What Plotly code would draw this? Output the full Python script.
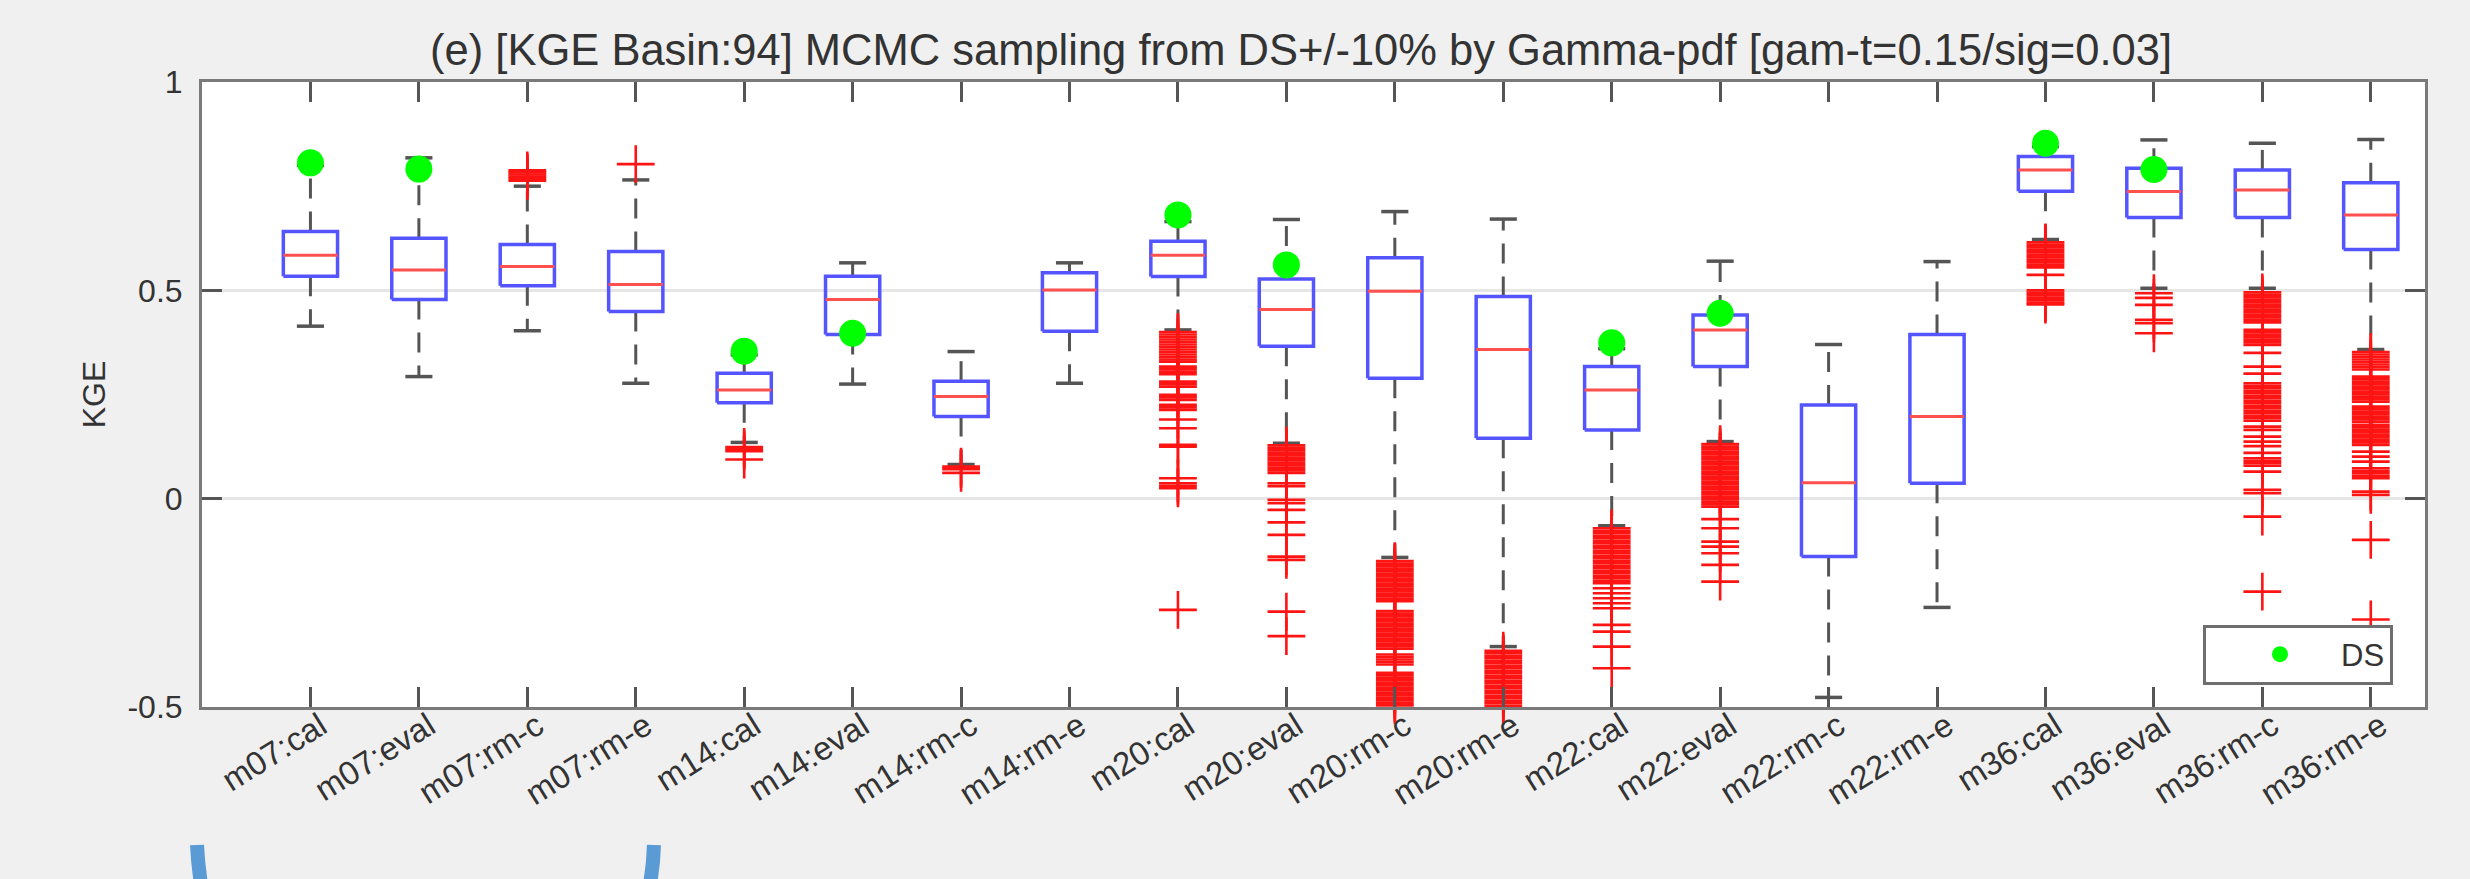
import plotly.graph_objects as go

# ---------------- data ----------------
categories = ["m07:cal", "m07:eval", "m07:rm-c", "m07:rm-e",
              "m14:cal", "m14:eval", "m14:rm-c", "m14:rm-e",
              "m20:cal", "m20:eval", "m20:rm-c", "m20:rm-e",
              "m22:cal", "m22:eval", "m22:rm-c", "m22:rm-e",
              "m36:cal", "m36:eval", "m36:rm-c", "m36:rm-e"]

q1 = [0.534, 0.478, 0.511, 0.449, 0.230, 0.394, 0.197, 0.402, 0.533, 0.366,
      0.289, 0.145, 0.165, 0.317, -0.139, 0.037, 0.738, 0.675, 0.675, 0.598]
median = [0.584, 0.549, 0.557, 0.514, 0.261, 0.478, 0.245, 0.501, 0.584, 0.454,
          0.498, 0.358, 0.261, 0.405, 0.038, 0.197, 0.789, 0.737, 0.741, 0.681]
q3 = [0.641, 0.625, 0.610, 0.593, 0.301, 0.534, 0.282, 0.542, 0.618, 0.527,
      0.578, 0.485, 0.317, 0.441, 0.225, 0.394, 0.821, 0.793, 0.789, 0.758]
whisker_low = [0.414, 0.293, 0.403, 0.277, 0.135, 0.275, 0.082, 0.277, 0.405, 0.133,
               -0.141, -0.355, -0.065, 0.137, -0.477, -0.261, 0.622, 0.505, 0.505, 0.358]
whisker_high = [0.800, 0.818, 0.750, 0.765, 0.345, 0.566, 0.353, 0.566, 0.665, 0.670,
                0.689, 0.671, 0.360, 0.570, 0.370, 0.569, 0.845, 0.861, 0.853, 0.862]

ds_value = [0.806, 0.791, None, None, 0.354, 0.397, None, None, 0.681, 0.561,
            None, None, 0.374, 0.445, None, None, 0.853, 0.790, None, None]

out_m07_cal = []
out_m07_eval = []
out_m07_rmc = [0.788, 0.783, 0.778, 0.773, 0.768, 0.763]
out_m07_rme = [0.803]
out_m14_cal = [0.124, 0.119, 0.114, 0.094]
out_m14_eval = []
out_m14_rmc = [0.077, 0.071, 0.062]
out_m14_rme = []
out_m20_cal = [0.400, 0.394, 0.388, 0.382, 0.376, 0.370, 0.364, 0.358, 0.352, 0.346,
               0.340, 0.334, 0.329, 0.317, 0.311, 0.305, 0.299, 0.281, 0.275, 0.269,
               0.249, 0.243, 0.237, 0.225, 0.219, 0.213, 0.190, 0.169, 0.129, 0.125,
               0.049, 0.037, 0.031, 0.025, -0.267]
out_m20_eval = [0.128, 0.122, 0.116, 0.110, 0.104, 0.098, 0.092, 0.086, 0.080, 0.074,
                0.068, 0.062, 0.037, 0.030, -0.003, -0.011, -0.027, -0.057, -0.087,
                -0.139, -0.147, -0.271, -0.330]
out_m20_rmc = [-0.150, -0.156, -0.162, -0.168, -0.174, -0.180, -0.186, -0.192, -0.198,
               -0.204, -0.210, -0.216, -0.222, -0.228, -0.234, -0.240, -0.246, -0.270,
               -0.276, -0.282, -0.288, -0.294, -0.300, -0.306, -0.312, -0.318, -0.324,
               -0.330, -0.336, -0.342, -0.348, -0.354, -0.360, -0.374, -0.380, -0.386,
               -0.392, -0.398, -0.418, -0.424, -0.430, -0.436, -0.442, -0.448, -0.454,
               -0.460, -0.466, -0.472, -0.478, -0.484, -0.490, -0.496]
out_m20_rme = [-0.365, -0.371, -0.377, -0.383, -0.389, -0.395, -0.401, -0.407, -0.413,
               -0.419, -0.425, -0.431, -0.437, -0.443, -0.449, -0.455, -0.461, -0.467,
               -0.473, -0.479, -0.485, -0.491, -0.497]
out_m22_cal = [-0.071, -0.077, -0.083, -0.089, -0.095, -0.101, -0.107, -0.113, -0.119,
               -0.125, -0.131, -0.137, -0.143, -0.149, -0.155, -0.161, -0.167, -0.173,
               -0.179, -0.185, -0.191, -0.197, -0.203, -0.215, -0.227, -0.239, -0.251,
               -0.263, -0.303, -0.319, -0.355, -0.407]
out_m22_eval = [0.131, 0.125, 0.119, 0.113, 0.107, 0.101, 0.095, 0.089, 0.083, 0.077,
                0.071, 0.065, 0.059, 0.053, 0.047, 0.041, 0.035, 0.029, 0.023, 0.017,
                0.011, 0.005, -0.001, -0.007, -0.013, -0.019, -0.049, -0.071, -0.103,
                -0.115, -0.131, -0.159, -0.199]
out_m22_rmc = []
out_m22_rme = []
out_m36_cal = [0.615, 0.609, 0.603, 0.597, 0.591, 0.585, 0.579, 0.573, 0.567, 0.561,
               0.555, 0.537, 0.500, 0.494, 0.488, 0.482, 0.476, 0.470, 0.466]
out_m36_eval = [0.493, 0.482, 0.465, 0.429, 0.421, 0.397]
out_m36_rmc = [0.495, 0.489, 0.483, 0.477, 0.471, 0.465, 0.459, 0.453, 0.447, 0.441,
               0.435, 0.429, 0.423, 0.405, 0.399, 0.393, 0.387, 0.381, 0.375, 0.369,
               0.350, 0.317, 0.300, 0.277, 0.271, 0.265, 0.259, 0.253, 0.247, 0.241,
               0.235, 0.229, 0.223, 0.217, 0.211, 0.205, 0.199, 0.193, 0.187, 0.173,
               0.165, 0.149, 0.137, 0.126, 0.110, 0.097, 0.091, 0.085, 0.079, 0.065,
               0.021, 0.013, -0.043, -0.223]
out_m36_rme = [0.352, 0.346, 0.340, 0.334, 0.328, 0.322, 0.316, 0.310, 0.293, 0.287,
               0.281, 0.275, 0.269, 0.263, 0.257, 0.251, 0.245, 0.239, 0.233, 0.221,
               0.215, 0.209, 0.203, 0.197, 0.191, 0.185, 0.177, 0.171, 0.165, 0.159,
               0.153, 0.147, 0.141, 0.135, 0.129, 0.113, 0.101, 0.089, 0.073, 0.067,
               0.061, 0.055, 0.049, 0.017, 0.009, -0.099, -0.290]

outliers = [out_m07_cal, out_m07_eval, out_m07_rmc, out_m07_rme,
            out_m14_cal, out_m14_eval, out_m14_rmc, out_m14_rme,
            out_m20_cal, out_m20_eval, out_m20_rmc, out_m20_rme,
            out_m22_cal, out_m22_eval, out_m22_rmc, out_m22_rme,
            out_m36_cal, out_m36_eval, out_m36_rmc, out_m36_rme]

y_tick_vals = [-0.5, 0, 0.5, 1]
y_tick_text = ["-0.5", "0", "0.5", "1"]

title_text = "(e) [KGE Basin:94] MCMC sampling from DS+/-10% by Gamma-pdf [gam-t=0.15/sig=0.03]"

# ---------------- geometry helpers ----------------
pos = list(range(1, len(categories) + 1))
HALF_BOX = 0.25
HALF_CAP = 0.125

FONT = "Liberation Sans, Arial, sans-serif"
TXT = "#333333"

box_x, box_y = [], []
med_x, med_y = [], []
wh_x, wh_y = [], []
cap_x, cap_y = [], []
out_x, out_y = [], []
for p, a, m, b, lo, hi, outs in zip(pos, q1, median, q3, whisker_low, whisker_high, outliers):
    box_x += [p - HALF_BOX, p + HALF_BOX, p + HALF_BOX, p - HALF_BOX, p - HALF_BOX, None]
    box_y += [a, a, b, b, a, None]
    med_x += [p - HALF_BOX, p + HALF_BOX, None]
    med_y += [m, m, None]
    wh_x += [p, p, None, p, p, None]
    wh_y += [b, hi, None, a, lo, None]
    cap_x += [p - HALF_CAP, p + HALF_CAP, None, p - HALF_CAP, p + HALF_CAP, None]
    cap_y += [hi, hi, None, lo, lo, None]
    out_x += [p] * len(outs)
    out_y += outs

ds_x = [p for p, v in zip(pos, ds_value) if v is not None]
ds_y = [v for v in ds_value if v is not None]

fig = go.Figure()
fig.add_trace(go.Scatter(x=wh_x, y=wh_y, mode="lines", showlegend=False, hoverinfo="skip",
                         line=dict(color="#555555", width=3, dash="20px,13px")))
fig.add_trace(go.Scatter(x=cap_x, y=cap_y, mode="lines", showlegend=False, hoverinfo="skip",
                         line=dict(color="#555555", width=3.5)))
fig.add_trace(go.Scatter(x=box_x, y=box_y, mode="lines", showlegend=False, hoverinfo="skip",
                         line=dict(color="rgb(85,85,255)", width=3.5)))
fig.add_trace(go.Scatter(x=med_x, y=med_y, mode="lines", showlegend=False, hoverinfo="skip",
                         line=dict(color="rgb(255,80,80)", width=3)))
fig.add_trace(go.Scatter(x=out_x, y=out_y, mode="markers", showlegend=False, cliponaxis=False,
                         marker=dict(symbol="cross-thin", size=27,
                                     line=dict(color="rgb(255,20,20)", width=2.6))))
fig.add_trace(go.Scatter(x=ds_x, y=ds_y, mode="markers", name="DS", cliponaxis=False,
                         marker=dict(symbol="circle", size=27, color="#00ff00",
                                     line=dict(width=0))))

axis_common = dict(showline=True, linecolor="#7a7a7a", linewidth=3, mirror="ticks",
                   ticks="inside", ticklen=20, tickwidth=3, tickcolor="#555555",
                   zeroline=False)

fig.update_layout(
    width=2470, height=879,
    margin=dict(l=202, r=45, t=82, b=172, autoexpand=False),
    paper_bgcolor="#f0f0f0", plot_bgcolor="#ffffff",
    font=dict(family=FONT, color=TXT),
    title=dict(text=title_text, x=0.4944, xref="paper", xanchor="center",
               y=1 - 50 / 879, yanchor="middle", yref="container",
               font=dict(family=FONT, size=43.5, color=TXT)),
    xaxis=dict(range=[0, len(categories) + 0.5], tickmode="array", tickvals=pos,
               ticktext=categories, tickangle=-32, showgrid=False,
               tickfont=dict(family=FONT, size=33, color=TXT),
               ticklabelshift=10, ticklabelstandoff=-16, **axis_common),
    yaxis=dict(range=[-0.5, 1], tickmode="array", tickvals=y_tick_vals, ticktext=y_tick_text,
               showgrid=True, gridcolor="#e6e6e6", gridwidth=3,
               tickfont=dict(family=FONT, size=32, color=TXT), ticklabelstandoff=10,
               title=dict(text="KGE", font=dict(family=FONT, size=32, color=TXT), standoff=13),
               **axis_common),
    legend=dict(x=0.9856, xanchor="right", y=0.084, yanchor="middle",
                bgcolor="#ffffff", bordercolor="#6e6e6e", borderwidth=3,
                font=dict(family=FONT, size=31, color=TXT), itemwidth=112, indentation=13),
    shapes=[
        dict(type="path", xref="paper", yref="paper", layer="above",
             path="M -0.00225 -0.2208 Q -0.0018 -0.2528 -0.00045 -0.2832",
             line=dict(color="#5b9bd5", width=14)),
        dict(type="path", xref="paper", yref="paper", layer="above",
             path="M 0.2033 -0.2208 Q 0.2031 -0.2528 0.2015 -0.2832",
             line=dict(color="#5b9bd5", width=14)),
    ],
)

fig.write_html("out.html")
